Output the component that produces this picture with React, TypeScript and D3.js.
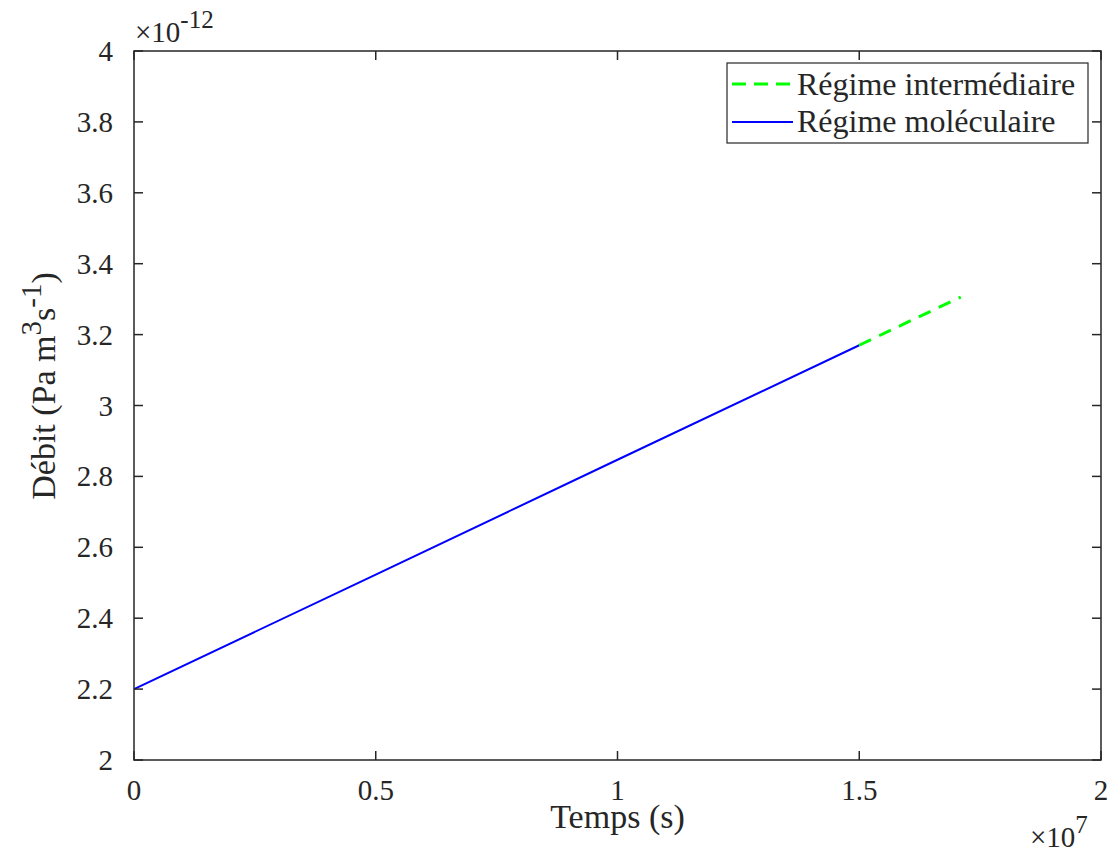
import React from "react";
import * as d3 from "d3";

const molTime = [0, 0.5, 1.0, 1.5];
const molFlow = [2.2, 2.523, 2.847, 3.17];
const intTime = [1.5, 1.6, 1.71];
const intFlow = [3.17, 3.235, 3.306];
const xTicks = [0, 0.5, 1, 1.5, 2];
const yTicks = [2, 2.2, 2.4, 2.6, 2.8, 3, 3.2, 3.4, 3.6, 3.8, 4];

const W = 1109, H = 853;
const L = 134, R = 1101, T = 51, B = 760;
const FONT = "'Liberation Serif', 'Times New Roman', serif";

export default function App() {
  const x = d3.scaleLinear().domain([0, 2]).range([L, R]);
  const y = d3.scaleLinear().domain([2, 4]).range([B, T]);
  const line = d3.line<[number, number]>().x(d => x(d[0])).y(d => y(d[1]));
  const mol = molTime.map((t, i) => [t, molFlow[i]] as [number, number]);
  const inter = intTime.map((t, i) => [t, intFlow[i]] as [number, number]);
  const tl = 9;
  return (
    <svg width={W} height={H} style={{ position: "absolute", left: 0, top: 0 }} fontFamily={FONT}>
      <rect x={0} y={0} width={W} height={H} fill="#fff" />
      <path d={line(mol) || ""} fill="none" stroke="#0000ff" strokeWidth={2} />
      <path d={line(inter) || ""} fill="none" stroke="#00ff00" strokeWidth={3} strokeDasharray="13,9" />
      <rect x={L} y={T} width={R - L} height={B - T} fill="none" stroke="#262626" strokeWidth={1.5} />
      {xTicks.map(t => (
        <g key={"x" + t}>
          <line x1={x(t)} x2={x(t)} y1={B} y2={B - tl} stroke="#262626" strokeWidth={1.5} />
          <line x1={x(t)} x2={x(t)} y1={T} y2={T + tl} stroke="#262626" strokeWidth={1.5} />
          <text x={x(t)} y={B + 40} textAnchor="middle" fontSize={29} fill="#262626">{String(t)}</text>
        </g>
      ))}
      {yTicks.map(t => (
        <g key={"y" + t}>
          <line x1={L} x2={L + tl} y1={y(t)} y2={y(t)} stroke="#262626" strokeWidth={1.5} />
          <line x1={R} x2={R - tl} y1={y(t)} y2={y(t)} stroke="#262626" strokeWidth={1.5} />
          <text x={L - 21} y={y(t) + 10} textAnchor="end" fontSize={29} fill="#262626">{String(t)}</text>
        </g>
      ))}
      <text x={135} y={42} fontSize={29} fill="#262626">×10<tspan dy={-14} fontSize={25}>-12</tspan></text>
      <text x={1030} y={847} fontSize={29} fill="#262626">×10<tspan dy={-14} fontSize={25}>7</tspan></text>
      <text x={(L + R) / 2} y={828} textAnchor="middle" fontSize={34} fill="#262626">Temps (s)</text>
      <text transform={`translate(55, 386) rotate(-90)`} textAnchor="middle" fontSize={34} fill="#262626">
        Débit (Pa m<tspan dy={-14} fontSize={29}>3</tspan><tspan dy={14}>s</tspan><tspan dy={-14} fontSize={29}>-1</tspan><tspan dy={14}>)</tspan>
      </text>
      <g>
        <rect x={727} y={63} width={361} height={80} fill="#fff" stroke="#262626" strokeWidth={1.2} />
        <line x1={732} x2={793} y1={84} y2={84} stroke="#00ff00" strokeWidth={3} strokeDasharray="14,8" />
        <line x1={732} x2={793} y1={122} y2={122} stroke="#0000ff" strokeWidth={2} />
        <text x={797} y={95} fontSize={32} fill="#262626">Régime intermédiaire</text>
        <text x={797} y={132} fontSize={32} fill="#262626">Régime moléculaire</text>
      </g>
    </svg>
  );
}
